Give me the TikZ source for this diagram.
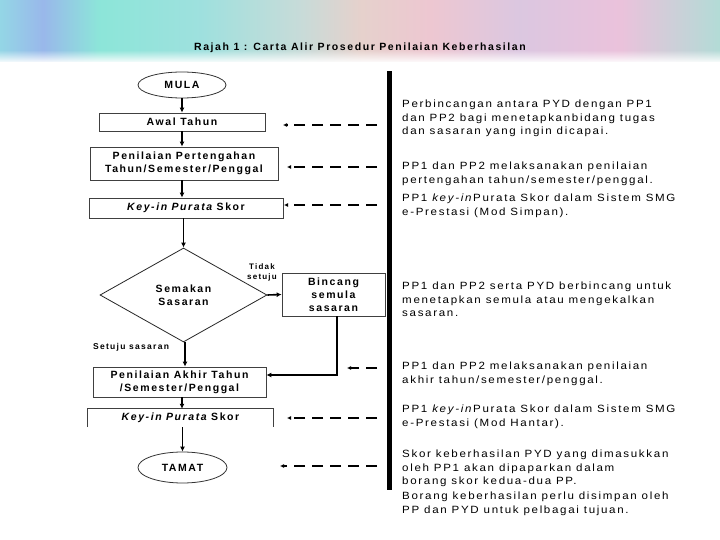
\documentclass[tikz,border=0pt]{standalone}
\usepackage{fontspec}
\setmainfont{Liberation Sans}
\newfontfamily\spfont[LetterSpace=15]{Liberation Sans}
\newfontfamily\notefont[LetterSpace=16,FakeStretch=1.1]{Liberation Sans}
\usetikzlibrary{shapes.geometric,arrows.meta,fadings}
\pgfdeclarehorizontalshading{hdr}{100bp}{rgb(0bp)=(0.58,0.84,0.9); rgb(25bp)=(0.58,0.84,0.9); rgb(28bp)=(0.6,0.72,0.92); rgb(31.9bp)=(0.55,0.9,0.85); rgb(38.9bp)=(0.62,0.88,0.87); rgb(45.8bp)=(0.78,0.86,0.85); rgb(50bp)=(0.9,0.82,0.8); rgb(54.9bp)=(0.93,0.78,0.82); rgb(61.1bp)=(0.86,0.78,0.88); rgb(68.1bp)=(0.92,0.76,0.86); rgb(75bp)=(0.7,0.86,0.84); rgb(100bp)=(0.7,0.86,0.84)}
\tikzset{
  box/.style={draw=black!75, line width=0.8pt, inner sep=1pt, align=center, font=\fontsize{10.5}{13}\spfont\bfseries},
  oval/.style={ellipse, draw=black!80, line width=0.8pt, inner sep=0pt, font=\fontsize{10.5}{12}\spfont\bfseries},
  flow/.style={line width=1.6pt, -{Latex[length=5pt,width=5pt]}},
  back/.style={line width=1.8pt, dash pattern=on 11pt off 7pt, -{Latex[length=4pt,width=4pt]}},
  note/.style={anchor=north west, inner sep=0pt, align=left, font=\fontsize{10.5}{13.5}\notefont},
  lbl/.style={inner sep=0pt, font=\fontsize{8.5}{10}\spfont\bfseries}
}
\begin{document}
\begin{tikzpicture}[x=1pt,y=-1pt]
\useasboundingbox (0,0) rectangle (720,540);
\fill[white] (0,0) rectangle (720,540);
% header band
\fill[shading=hdr] (0,0) rectangle (720,62);
\fill[white, path fading=north] (0,50) rectangle (720,63);
\node[inner sep=0pt, font=\fontsize{10.5}{12}\spfont\bfseries] (title) at (360,48) {Rajah 1 : Carta Alir Prosedur Penilaian Keberhasilan};

% flow nodes
\node[oval, minimum width=88pt, minimum height=26pt] (mula) at (182,85) {MULA};
\node[box, minimum width=166pt, minimum height=18pt] (awal) at (182,122) {Awal Tahun};
\node[box, minimum width=188pt, minimum height=33pt] (tengah) at (184,163.5) {Penilaian Pertengahan\\Tahun/Semester/Penggal};
\node[box, minimum width=194pt, minimum height=20pt] (key1) at (186,208) {\itshape Key-in Purata\upshape{} Skor};
\node[diamond, draw=black!85, line width=0.8pt, minimum width=167pt, minimum height=94pt, shape aspect=1.78, inner sep=1pt, align=center, font=\fontsize{10.5}{13}\spfont\bfseries] (semak) at (183.5,295) {Semakan\\Sasaran};
\node[box, minimum width=103pt, minimum height=43pt] (bincang) at (333.5,294.5) {Bincang\\semula\\sasaran};
\node[box, minimum width=173pt, minimum height=30pt] (akhir) at (179.5,382) {Penilaian Akhir Tahun\\/Semester/Penggal};
\node[inner sep=1pt, minimum width=185pt, minimum height=18pt, font=\fontsize{10.5}{13}\spfont\bfseries] (key2) at (180.5,418) {\itshape Key-in Purata\upshape{} Skor};
\draw[draw=black!75, line width=0.8pt] (key2.south west) |- (key2.north east) -- (key2.south east);
\node[oval, minimum width=89pt, minimum height=31pt] (tamat) at (182.5,467.5) {TAMAT};

% labels
\node[lbl, align=center, font=\fontsize{8}{10}\spfont\bfseries] (tidak) at (262,272) {Tidak\\setuju};
\node[lbl, anchor=west] (setuju) at (93,347) {Setuju sasaran};

% flow connectors
\draw[flow] (mula.south) -- (mula.south |- awal.north);
\draw[flow] (awal.south) -- (awal.south |- tengah.north);
\draw[flow] (tengah.south -| awal.south) -- (awal.south |- key1.north);
\draw[flow] (semak.north |- key1.south) -- (semak.north);
\draw[flow] (semak.east) -- (bincang.west);
\draw[flow] ([xshift=3.5pt]bincang.south) |- ([yshift=7pt]akhir.east);
\draw[flow] ([xshift=1.5pt]semak.south) -- ([xshift=1.5pt]semak.south |- akhir.north);
\draw[flow] ([xshift=2.5pt]akhir.south) -- ([xshift=2.5pt]akhir.south |- key2.north);
\draw[flow] (tamat.north |- key2.south) -- (tamat.north);

% thick bar
\node[fill=black, minimum width=5.5pt, minimum height=419pt, inner sep=0pt] (bar) at (389.25,280.5) {};

% dashed back arrows
\coordinate (s1) at (377,125); \coordinate (t1) at (283,125);
\coordinate (s2) at (377,167); \coordinate (t2) at (287,167);
\coordinate (s3) at (377,205); \coordinate (t3) at (284,205);
\coordinate (s4) at (377,368); \coordinate (t4) at (347,368);
\coordinate (s5) at (377,418); \coordinate (t5) at (287,418);
\coordinate (s6) at (377,466); \coordinate (t6) at (280,466);
\foreach \i in {1,...,6} {\draw[back] (s\i) -- (t\i);}

% notes
\node[note] (n1) at (402,100) {Perbincangan antara PYD dengan PP1\\dan PP2 bagi menetapkanbidang tugas\\dan sasaran yang ingin dicapai.};
\node[note] (n2) at (402,162) {PP1 dan PP2 melaksanakan penilaian\\pertengahan tahun/semester/penggal.};
\node[note] (n3) at (402,194) {PP1 \textit{key-in}Purata Skor dalam Sistem SMG\\e-Prestasi (Mod Simpan).};
\node[note] (n4) at (402,282) {PP1 dan PP2 serta PYD berbincang untuk\\menetapkan semula atau mengekalkan\\sasaran.};
\node[note] (n5) at (402,362) {PP1 dan PP2 melaksanakan penilaian\\akhir tahun/semester/penggal.};
\node[note] (n6) at (402,405) {PP1 \textit{key-in}Purata Skor dalam Sistem SMG\\e-Prestasi (Mod Hantar).};
\node[note] (n7) at (402,450) {Skor keberhasilan PYD yang dimasukkan\\oleh PP1 akan dipaparkan dalam\\borang skor kedua-dua PP.};
\node[note] (n8) at (402,492) {Borang keberhasilan perlu disimpan oleh\\PP dan PYD untuk pelbagai tujuan.};
\end{tikzpicture}
\end{document}
